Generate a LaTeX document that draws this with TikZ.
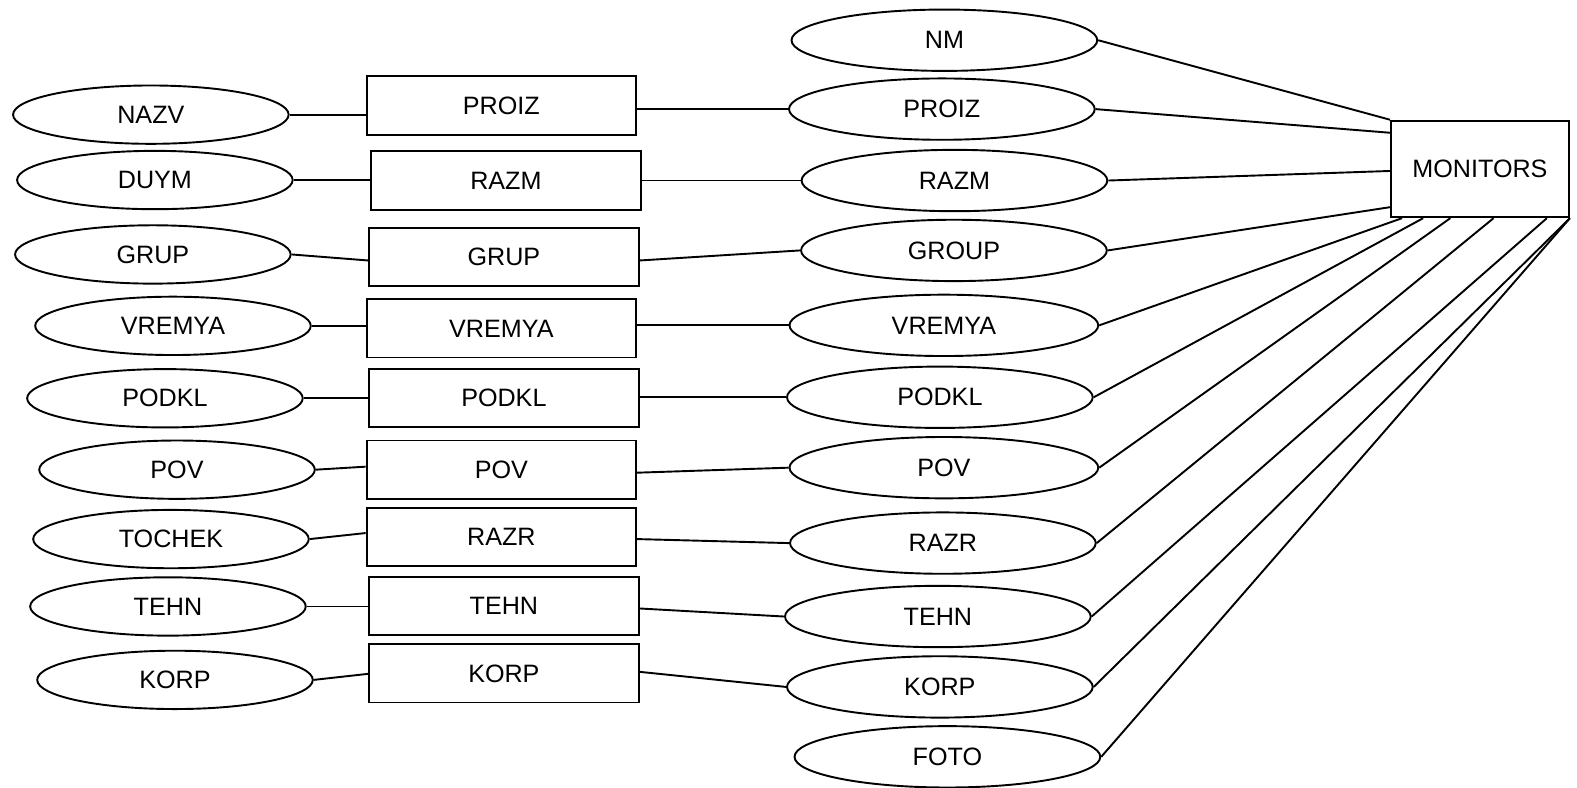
\documentclass[tikz,border=0pt]{standalone}
\usepackage{fontspec}
\setmainfont{Liberation Sans}
\usetikzlibrary{shapes.geometric}
\begin{document}
\begin{tikzpicture}[x=1pt,y=-1pt,line width=1.9pt,
  lbl/.style={font=\fontsize{25}{29}\selectfont},
  lattr/.style={ellipse,draw,inner sep=0pt,minimum width=274pt,minimum height=58pt,lbl},
  rattr/.style={ellipse,draw,inner sep=0pt,minimum width=304pt,minimum height=61pt,lbl},
  ent/.style={rectangle,draw,inner sep=0pt,minimum width=268pt,minimum height=58pt,lbl},
  link/.style={draw,line width=1.9pt}]
\useasboundingbox[fill=white] (0,0) rectangle (1568,783);
% left attributes
\node[lattr] (l1) at (150,114) {NAZV};
\node[lattr] (l2) at (154,179) {DUYM};
\node[lattr] (l3) at (152,253) {GRUP};
\node[lattr] (l4) at (172,324) {VREMYA};
\node[lattr] (l5) at (164,396) {PODKL};
\node[lattr] (l6) at (176,467) {POV};
\node[lattr] (l7) at (170,536) {TOCHEK};
\node[lattr] (l8) at (167,603) {TEHN};
\node[lattr] (l9) at (174,676) {KORP};
% middle entities
\node[ent] (m1) at (498.5,105) {PROIZ};
\node[ent] (m2) at (503,179.5) {RAZM};
\node[ent] (m3) at (501,255.5) {GRUP};
\node[ent] (m4) at (498.5,326.5) {VREMYA};
\node[ent] (m5) at (501,396) {PODKL};
\node[ent] (m6) at (498.5,467) {POV};
\node[ent] (m7) at (498.5,534) {RAZR};
\node[ent] (m8) at (501,602.5) {TEHN};
\node[ent] (m9) at (501,669.5) {KORP};
% right attributes
\node[rattr] (r0) at (939,40) {NM};
\node[rattr] (r1) at (936.5,108.5) {PROIZ};
\node[rattr] (r2) at (949,179.5) {RAZM};
\node[rattr] (r3) at (948.5,249) {GROUP};
\node[rattr,minimum width=307pt] (r4) at (938.5,323.5) {VREMYA};
\node[rattr] (r5) at (934.5,395) {PODKL};
\node[rattr,minimum width=307pt] (r6) at (938.5,465) {POV};
\node[rattr] (r7) at (937.5,540) {RAZR};
\node[rattr] (r8) at (932.5,613) {TEHN};
\node[rattr] (r9) at (934.5,683) {KORP};
\node[rattr] (r10) at (942,752.5) {FOTO};
% main entity
\node[rectangle,draw,inner sep=0pt,minimum width=177pt,minimum height=96pt,lbl] (mon) at (1471.5,168) {MONITORS};
% left links
\draw[link] (l1.east) -- (m1.west |- l1.east);
\draw[link] (l2.east) -- (m2.west |- l2.east);
\draw[link] (l3.east) -- (m3.west |- 0,259);
\draw[link] (l4.east) -- (m4.west |- l4.east);
\draw[link] (l5.east) -- (m5.west |- l5.east);
\draw[link] (l6.east) -- (m6.west |- 0,464);
\draw[link] (l7.east) -- (m7.west |- 0,530);
\draw[link] (l8.east) -- (m8.west |- l8.east);
\draw[link] (l9.east) -- (m9.west |- 0,670);
% middle links
\draw[link] (m1.east |- r1.west) -- (r1.west);
\draw[link] (m2.east |- r2.west) -- (r2.west);
\draw[link] (m3.east |- 0,259) -- (r3.west);
\draw[link] (m4.east |- r4.west) -- (r4.west);
\draw[link] (m5.east |- r5.west) -- (r5.west);
\draw[link] (m6.east |- 0,470) -- (r6.west);
\draw[link] (m7.east |- 0,536) -- (r7.west);
\draw[link] (m8.east |- 0,605) -- (r8.west);
\draw[link] (m9.east |- 0,668) -- (r9.west);
% links to MONITORS
\draw[link] (r0.east) -- (mon.north west);
\draw[link] (r1.east) -- (mon.west |- 0,132);
\draw[link] (r2.east) -- (mon.west |- 0,170);
\draw[link] (r3.east) -- (mon.west |- 0,206);
\draw[link] (r4.east) -- (mon.south -| 1394,0);
\draw[link] (r5.east) -- (mon.south -| 1415,0);
\draw[link] (r6.east) -- (mon.south -| 1442,0);
\draw[link] (r7.east) -- (mon.south -| 1485,0);
\draw[link] (r8.east) -- (mon.south -| 1538,0);
\draw[link] (r9.east) -- (mon.south east);
\draw[link] (r10.east) -- (mon.south east);
\end{tikzpicture}
\end{document}
